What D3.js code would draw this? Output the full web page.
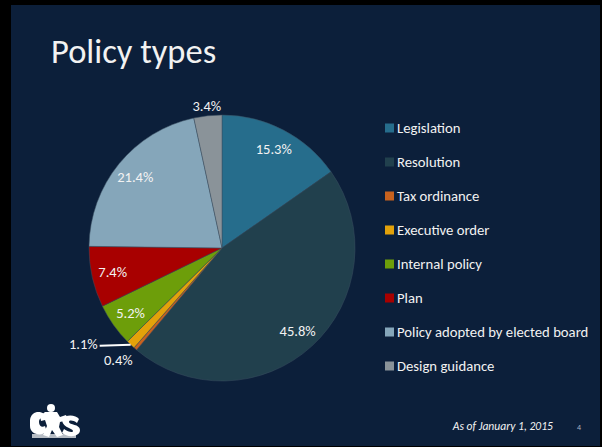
<html>

<head>
    <meta charset="utf-8" />
    <title>Policy types</title>
    <script src="https://d3js.org/d3.v7.min.js"></script>
    <style>
        body {
            margin: 0;
            background: #000;
            font-family: Carlito, Calibri, Lato, "Open Sans", sans-serif;
        }
    </style>
</head>

<body>
    <svg id="pie-chart" width="602" height="447"></svg>
    <script>
        const categories = ["Legislation", "Resolution", "Tax ordinance", "Executive order",
            "Internal policy", "Plan", "Policy adopted by elected board", "Design guidance"]
        const values = [15.3, 45.8, 0.4, 1.1, 5.2, 7.4, 21.4, 3.4]
        const colors = ["#266d8c", "#21404d", "#c8621e", "#e3a20a", "#6d9e0a", "#a80000", "#85a6ba", "#8a9399"]

        const svg = d3.select("svg#pie-chart")
        const width = +svg.attr("width")
        const height = +svg.attr("height")

        // slide background
        svg.append("rect").attr("x", 11).attr("y", 5)
            .attr("width", 589).attr("height", 441)
            .attr("fill", "#0c1f3a")

        svg.append("text").attr("x", 51).attr("y", 63)
            .attr("fill", "#f2f2f2").attr("font-size", 34.5)
            .text("Policy types")

        const data = categories.map((c, i) => ({ name: c, value: values[i], color: colors[i] }))

        const cx = 222, cy = 248, radius = 133
        const pie = d3.pie().sort(null).value(d => d.value)
        const arc = d3.arc().innerRadius(0).outerRadius(radius)
        const labelArc = d3.arc().innerRadius(112).outerRadius(112)
        const outerArc = d3.arc().innerRadius(radius + 10).outerRadius(radius + 10)
        const edgeArc = d3.arc().innerRadius(radius).outerRadius(radius)

        const arcs = pie(data)
        const chartArea = svg.append("g").attr("transform", `translate(${cx}, ${cy})`)

        chartArea.selectAll("path.slice").data(arcs)
            .join("path").attr("class", "slice")
            .attr("d", arc)
            .attr("fill", d => d.data.color)
            .attr("stroke", "#3a4f60")
            .attr("stroke-width", 0.5)

        const labels = chartArea.append("g").attr("class", "labels")
            .attr("fill", "#f2f2f2").attr("font-size", 14.5)

        arcs.forEach((d, i) => {
            const txt = d3.format(".1f")(d.data.value) + "%"
            if (d.data.value >= 4) {
                const [x, y] = labelArc.centroid(d)
                labels.append("text").attr("x", x).attr("y", y)
                    .attr("text-anchor", "middle").attr("dominant-baseline", "central").text(txt)
            } else if (d.data.value >= 2) {
                const [x, y] = outerArc.centroid(d)
                labels.append("text").attr("x", x).attr("y", y)
                    .attr("text-anchor", "middle").attr("dominant-baseline", "central").text(txt)
            } else if (d.data.value >= 1) {
                // leader line out to the left
                const [x, y] = edgeArc.centroid(d)
                labels.append("line")
                    .attr("x1", x).attr("y1", y).attr("x2", x - 31).attr("y2", y + 1)
                    .attr("stroke", "#ffffff").attr("stroke-width", 2)
                labels.append("text").attr("x", x - 33).attr("y", y - 1)
                    .attr("text-anchor", "end").attr("dominant-baseline", "central").text(txt)
            } else {
                const [x, y] = edgeArc.centroid(d)
                labels.append("text").attr("x", x - 17).attr("y", y + 11)
                    .attr("text-anchor", "middle").attr("dominant-baseline", "central").text(txt)
            }
        })

        // legend
        const legendY = d3.scalePoint().domain(categories).range([128, 366])
        const legend = svg.append("g").attr("class", "legend")
            .selectAll("g.legend-item").data(data)
            .join("g").attr("class", "legend-item")

        legend.append("rect")
            .attr("x", 385).attr("y", d => legendY(d.name) - 4.5)
            .attr("width", 9).attr("height", 9)
            .attr("fill", d => d.color)

        legend.append("text")
            .attr("x", 397).attr("y", d => legendY(d.name))
            .attr("dominant-baseline", "central")
            .attr("fill", "#f2f2f2").attr("font-size", 14.7)
            .text(d => d.name)

        // footer
        svg.append("text").attr("x", 553).attr("y", 430)
            .attr("text-anchor", "end").attr("font-style", "italic")
            .attr("fill", "#f2f2f2").attr("font-size", 11.6)
            .text("As of January 1, 2015")
        svg.append("text").attr("x", 579).attr("y", 430)
            .attr("text-anchor", "middle")
            .attr("fill", "#a9b4c2").attr("font-size", 8)
            .text("4")

        // logo (rough white silhouette)
        const logo = svg.append("g").attr("fill", "#ffffff")
            .attr("transform", "translate(30, 404)")
        logo.append("path")
            .attr("d", "M0,16 C1,8 9,6 14,10 L15,15 C12,13 9,14 9,18 C9,22 12,24 15,22 L17,28 C10,33 0,30 0,22 Z")
        logo.append("circle").attr("cx", 21).attr("cy", 4).attr("r", 4)
        logo.append("path")
            .attr("d", "M15,8 L27,8 L30,13 L36,11 L38,16 L30,18 L29,23 L33,31 L27,33 L22,26 L19,33 L13,31 L17,22 L15,16 L11,17 L10,12 Z")
        logo.append("path")
            .attr("d", "M32,15 C36,10 46,11 49,15 L47,19 C43,16 39,16 39,18 C39,21 50,20 50,26 C50,33 38,34 32,29 L34,25 C38,28 43,29 43,27 C43,24 32,24 32,15 Z")
        logo.append("rect").attr("x", 2).attr("y", 30).attr("width", 44).attr("height", 4)
            .attr("opacity", 0.7)
    </script>
</body>

</html>
